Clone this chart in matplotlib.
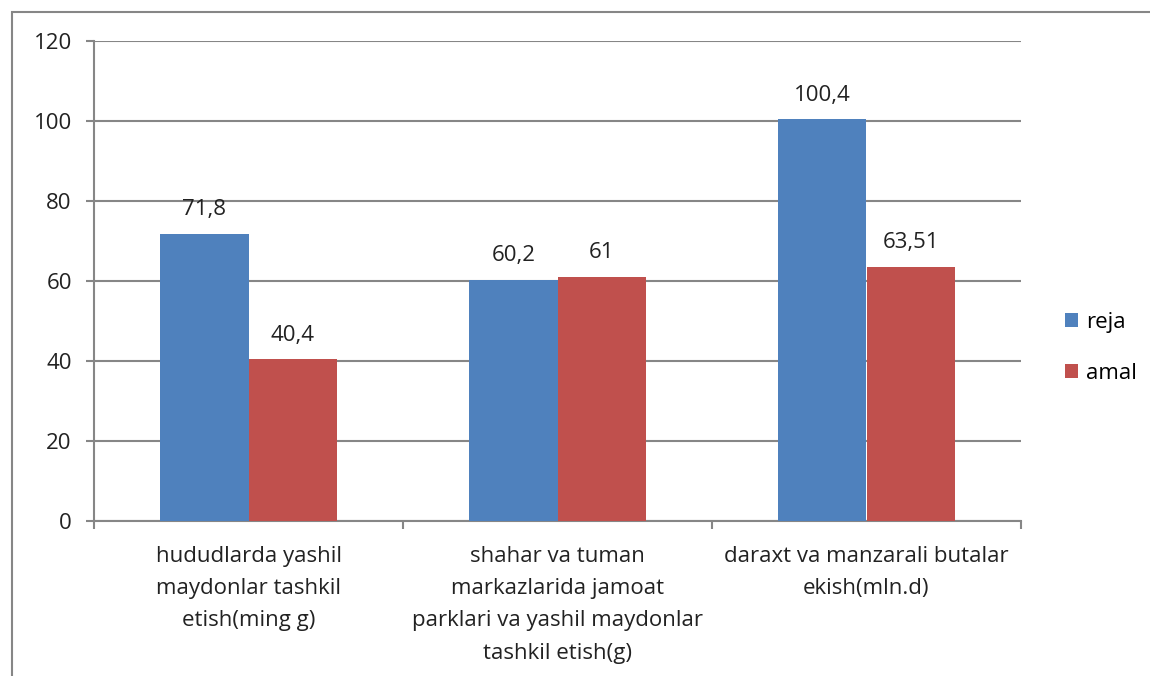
import numpy as np
import matplotlib.pyplot as plt
from matplotlib.patches import Rectangle

categories = ["hududlarda yashil\nmaydonlar tashkil\netish(ming g)",
              "shahar va tuman\nmarkazlarida jamoat\nparklari va yashil maydonlar\ntashkil etish(g)",
              "daraxt va manzarali butalar\nekish(mln.d)"]
reja = [71.8, 60.2, 100.4]
amal = [40.4, 61, 63.51]
reja_labels = ["71,8", "60,2", "100,4"]
amal_labels = ["40,4", "61", "63,51"]

plt.rcParams['font.family'] = ['Open Sans', 'DejaVu Sans']
fs = 16

fig = plt.figure(figsize=(11.5, 6.76), dpi=100)
ax = fig.add_axes([94/1150, 1-521/676, (1021-94)/1150, (521-41)/676])

# outer chart frame
fig.patches.append(Rectangle((11.5/1150, -0.1), 1.5, (676-11.5)/676 + 0.1,
                             transform=fig.transFigure, fill=False,
                             edgecolor='#868686', lw=1.5))

x = np.arange(len(categories))
w = 0.285
b1 = ax.bar(x - w/2, reja, w, color='#4F81BD', label='reja', zorder=3)
b2 = ax.bar(x + w/2, amal, w, color='#C0504D', label='amal', zorder=3)

for bars, labs in [(b1, reja_labels), (b2, amal_labels)]:
    for bar, lab in zip(bars, labs):
        ax.annotate(lab, (bar.get_x() + bar.get_width()/2, bar.get_height()),
                    xytext=(0, 10), textcoords='offset points',
                    ha='center', va='bottom', fontsize=fs, color='#222222')

ax.set_xlim(-0.5, 2.5)
ax.set_ylim(0, 120)
ax.set_yticks(range(0, 121, 20))
ax.yaxis.grid(True, color='#868686', lw=1.5, zorder=0)
ax.set_axisbelow(True)

ax.set_xticks([-0.5, 0.5, 1.5, 2.5])
ax.set_xticklabels([])
ax.set_xticks(x, minor=True)
ax.set_xticklabels(categories, minor=True, fontsize=fs, linespacing=1.7,
                   va='top', ha='center', color='#222222')
ax.tick_params(axis='x', which='minor', length=0, pad=18)
ax.tick_params(axis='x', which='major', length=6, width=1.5, color='#868686', direction='out')
ax.tick_params(axis='y', length=6, width=1.5, color='#868686', labelsize=fs,
               labelcolor='#222222', pad=10)

for s in ['top', 'right']:
    ax.spines[s].set_visible(False)
for s in ['left', 'bottom']:
    ax.spines[s].set_color('#868686')
    ax.spines[s].set_linewidth(1.5)

fig.legend(handles=[b1, b2], loc='center left', bbox_to_anchor=(1045/1150, 1-348/676),
           frameon=False, fontsize=fs, handlelength=0.6, handleheight=0.6,
           handletextpad=0.35, labelspacing=1.35)

fig.savefig('out.png', dpi=100)
